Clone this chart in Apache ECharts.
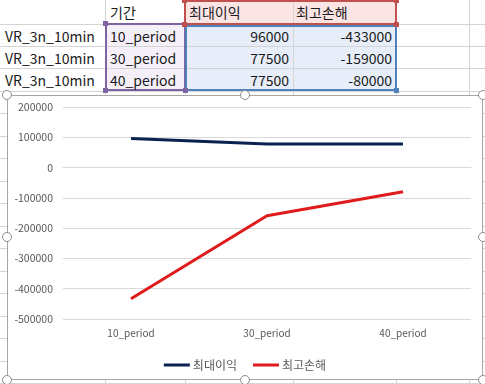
<!DOCTYPE html>
<html><head><meta charset="utf-8">
<script src="https://cdn.jsdelivr.net/npm/echarts@6/dist/echarts.min.js"></script>
<style>
html,body{margin:0;padding:0;width:485px;height:384px;overflow:hidden;background:#fff;}
#sheet{position:absolute;left:0;top:0;width:485px;height:384px;}
.cell{position:absolute;font-family:"Noto Sans CJK KR","Noto Sans",sans-serif;font-size:14px;color:#1a1a1a;line-height:22px;white-space:nowrap;}
.hl{position:absolute;height:1px;background:#d4d4d4;}
.vl{position:absolute;width:1px;background:#d4d4d4;}
.fill{position:absolute;}
.bd{position:absolute;box-sizing:border-box;border:2px solid;}
.sq{position:absolute;width:5px;height:5px;}
.hd{position:absolute;width:10px;height:10px;box-sizing:border-box;border:1.3px solid #8c8c8c;border-radius:50%;background:#fff;z-index:5;}
#chart{position:absolute;left:7px;top:95px;width:476px;height:285px;box-sizing:border-box;border:1px solid #a6a6a6;background:#fff;z-index:3;}
</style></head>
<body>
<div id="sheet"></div>
<div id="chart"></div>
<script>
// ---- data ----
const rowLabels = ['VR_3n_10min','VR_3n_10min','VR_3n_10min'];
const categories = ['10_period','30_period','40_period'];
const headerPeriod = '기간';
const seriesNames = ['최대이익','최고손해'];
const maxProfit = [96000, 77500, 77500];
const maxLoss = [-433000, -159000, -80000];

// ---- spreadsheet background ----
const sheet = document.getElementById('sheet');
function add(cls, style, text){const d=document.createElement('div');d.className=cls;Object.assign(d.style,style);if(text!==undefined)d.textContent=text;sheet.appendChild(d);return d;}
const colX=[105,185,293,396,469];
const rowY=[24,46,68,91,113,136,158,181,203,226,248,271,293,316,338,361,383];
// fills
add('fill',{left:'185px',top:'0px',width:'211px',height:'24px',background:'#fbe4e4'});
add('fill',{left:'185px',top:'24px',width:'211px',height:'67px',background:'#e8eef9'});
add('fill',{left:'106px',top:'24px',width:'79px',height:'67px',background:'#f4eff8'});
rowY.forEach(y=>add('hl',{left:'0px',top:y+'px',width:'485px'}));
colX.forEach(x=>add('vl',{left:x+'px',top:'0px',height:'384px'}));
// borders
add('bd',{left:'184px',top:'0px',width:'213px',height:'25px',borderColor:'#c0504d'});
add('bd',{left:'105px',top:'23px',width:'81px',height:'68px',borderColor:'#8064a2'});
add('bd',{left:'185px',top:'25px',width:'212px',height:'66px',borderColor:'#4f81bd'});
[[182,-2,'#c0504d'],[394,-2,'#c0504d'],[182,22,'#c0504d'],[394,22,'#c0504d'],[103,21,'#8064a2'],[103,88,'#8064a2'],[183,88,'#8064a2'],[394,88,'#4f81bd']].forEach(p=>add('sq',{left:p[0]+'px',top:p[1]+'px',background:p[2]}));
// texts
add('cell',{left:'110px',top:'1px'},headerPeriod);
add('cell',{left:'189px',top:'1px'},seriesNames[0]);
add('cell',{left:'296px',top:'1px'},seriesNames[1]);
for(let i=0;i<3;i++){
  const t=rowY[i]+1;
  add('cell',{left:'5px',top:t+'px'},rowLabels[i]);
  add('cell',{left:'110px',top:t+'px'},categories[i]);
  add('cell',{left:'185px',top:t+'px',width:'104px',textAlign:'right'},String(maxProfit[i]));
  add('cell',{left:'293px',top:t+'px',width:'99px',textAlign:'right'},String(maxLoss[i]));
}
// chart handles
[[7,95],[245,95],[483,95],[7,237],[483,237],[7,380],[245,380],[483,380]].forEach(p=>{
  const d=document.createElement('div');d.className='hd';d.style.left=(p[0]-5)+'px';d.style.top=(p[1]-5)+'px';document.body.appendChild(d);
});

// ---- chart ----
const chart = echarts.init(document.getElementById('chart'), null, {renderer:'canvas'});
const font = '"Noto Sans CJK KR","Noto Sans",sans-serif';
chart.setOption({
  animation:false,
  backgroundColor:'#fff',
  grid:{left:55,right:11,top:11,bottom:60,containLabel:false},
  legend:{
    data:seriesNames,
    left:'center', top:258,
    icon:'rect', itemWidth:26, itemHeight:3, itemGap:16,
    textStyle:{fontFamily:font,fontSize:12,color:'#595959',padding:[0,0,0,-2]}
  },
  xAxis:{
    type:'category', data:categories, boundaryGap:true,
    axisLine:{show:true,lineStyle:{color:'#d9d9d9',width:1}},
    axisTick:{show:false},
    axisLabel:{fontFamily:font,fontSize:10,color:'#595959',margin:9}
  },
  yAxis:{
    type:'value', min:-500000, max:200000, interval:100000,
    axisLine:{show:false}, axisTick:{show:false},
    axisLabel:{fontFamily:font,fontSize:10.5,color:'#595959',margin:10,formatter:v=>String(v)},
    splitLine:{lineStyle:{color:'#d9d9d9',width:1}}
  },
  series:[
    {name:seriesNames[0],type:'line',data:maxProfit,symbol:'none',color:'#0b2250',lineStyle:{width:3,color:'#0b2250'}},
    {name:seriesNames[1],type:'line',data:maxLoss,symbol:'none',color:'#e01b1b',lineStyle:{width:3,color:'#e01b1b'}}
  ]
});
</script>
</body></html>
